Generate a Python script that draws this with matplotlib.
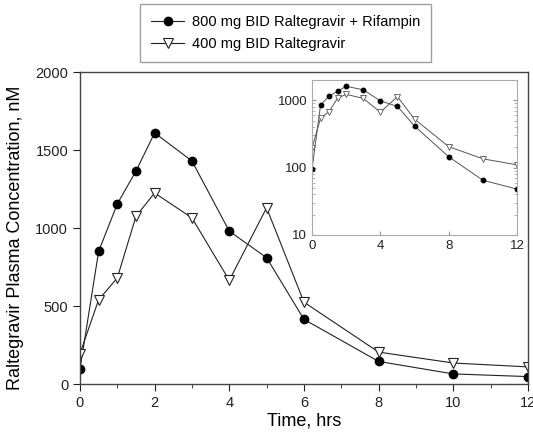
import numpy as np
import matplotlib
matplotlib.use('Agg')
import matplotlib.pyplot as plt
from matplotlib.ticker import MultipleLocator, LogLocator, NullFormatter, FixedLocator
matplotlib.rcParams['font.family'] = 'sans-serif'
matplotlib.rcParams['font.sans-serif'] = ['Liberation Sans', 'DejaVu Sans']

# time points (hrs)
time = [0, 0.5, 1, 1.5, 2, 3, 4, 5, 6, 8, 10, 12]
# 800 mg BID raltegravir + rifampin
conc_rif = [95, 850, 1155, 1365, 1610, 1430, 980, 810, 415, 145, 65, 48]
# 400 mg BID raltegravir alone
conc_alone = [195, 540, 680, 1075, 1225, 1065, 665, 1130, 525, 205, 135, 110]

label_rif = '800 mg BID Raltegravir + Rifampin'
label_alone = '400 mg BID Raltegravir'

fig = plt.figure(figsize=(5.33, 4.33), dpi=100)
ax = fig.add_axes([0.150, 0.113, 0.8405, 0.7206])

l1, = ax.plot(time, conc_rif, '-', color='#222222', lw=0.8, marker='o', ms=6,
              mfc='black', mec='black', label=label_rif)
l2, = ax.plot(time, conc_alone, '-', color='#222222', lw=0.8, marker='v', ms=6.5,
              mfc='white', mec='#222222', mew=0.8, label=label_alone)

ax.set_xlim(0, 12)
ax.set_ylim(0, 2000)
ax.set_xticks(range(0, 13, 2))
ax.xaxis.set_minor_locator(MultipleLocator(1))
ax.set_yticks([0, 500, 1000, 1500, 2000])
ax.tick_params(axis='both', which='major', direction='out', length=5, labelsize=10.5, colors='#222222')
ax.tick_params(axis='x', which='minor', direction='out', length=3, color='#222222')
ax.tick_params(top=False, right=False)
for sp in ax.spines.values():
    sp.set_color('#444444')
    sp.set_linewidth(1.0)
ax.set_xlabel('Time, hrs', fontsize=13, labelpad=2)
ax.set_ylabel('Raltegravir Plasma Concentration, nM', fontsize=13)
ax.yaxis.set_label_coords(-0.125, 0.47)

fig.legend(handles=[l1, l2], loc='upper left', bbox_to_anchor=(140/533, 1 - 4/433),
           frameon=True, fancybox=False, edgecolor='#888888', fontsize=10.5,
           handlelength=2.3, borderpad=0.75, labelspacing=0.55, handletextpad=0.5,
           borderaxespad=0)

# inset on log scale
axin = fig.add_axes([0.5854, 0.4573, 0.3846, 0.358])
axin.plot(time, conc_rif, '-', color='#555555', lw=0.7, marker='o', ms=3.2,
          mfc='black', mec='black')
axin.plot(time, conc_alone, '-', color='#555555', lw=0.7, marker='v', ms=3.8,
          mfc='white', mec='#555555', mew=0.6)
axin.set_yscale('log')
axin.set_xlim(0, 12)
axin.set_ylim(10, 2000)
axin.set_xticks([0, 4, 8, 12])
axin.yaxis.set_major_locator(FixedLocator([10, 100, 1000]))
axin.yaxis.set_major_formatter(matplotlib.ticker.FuncFormatter(lambda v, p: '%d' % v))
axin.yaxis.set_minor_locator(LogLocator(base=10, subs=np.arange(2, 10)))
axin.yaxis.set_minor_formatter(NullFormatter())
axin.tick_params(axis='both', which='major', direction='in', length=3, labelsize=9.5,
                 color='#999999', labelcolor='#222222', right=True)
axin.tick_params(axis='y', which='minor', direction='in', length=2, color='#aaaaaa', right=True)
for sp in axin.spines.values():
    sp.set_color('#aaaaaa')
    sp.set_linewidth(0.8)

fig.savefig('out.png', dpi=100)
